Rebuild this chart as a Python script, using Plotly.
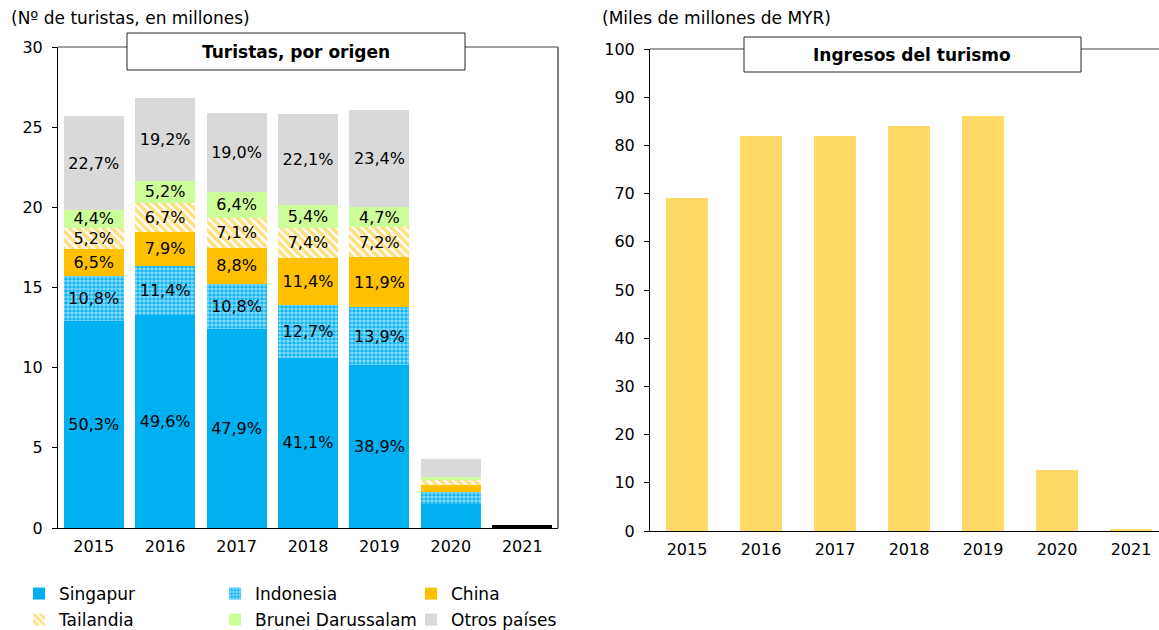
import plotly.graph_objects as go

# ---------------- data ----------------
years = ["2015", "2016", "2017", "2018", "2019", "2020", "2021"]
total_tourists = [25.7, 26.8, 25.9, 25.8, 26.1, 4.3, 0.0]  # millions
# shares (%) of each origin
share_singapur = [50.3, 49.6, 47.9, 41.1, 38.9, 35.0, 0.0]
share_indonesia = [10.8, 11.4, 10.8, 12.7, 13.9, 17.5, 0.0]
share_china = [6.5, 7.9, 8.8, 11.4, 11.9, 9.5, 0.0]
share_tailandia = [5.2, 6.7, 7.1, 7.4, 7.2, 8.0, 0.0]
share_brunei = [4.4, 5.2, 6.4, 5.4, 4.7, 3.5, 0.0]
share_otros = [22.7, 19.2, 19.0, 22.1, 23.4, 26.5, 0.0]
show_label = [True, True, True, True, True, False, False]
total_2021 = [0, 0, 0, 0, 0, 0, 0.2]

ingresos = [69, 82, 82, 84, 86, 12.7, 0.3]  # miles de millones de MYR

W, H = 1159, 630
FONT = "DejaVu Sans"

def fx(px):
    return px / W

def fy(py):
    return 1 - py / H

# plot geometry (pixels)
L_X0, L_X1, L_Y0, L_Y1 = 58, 558, 528, 47
R_X0, R_X1, R_Y0, R_Y1 = 650, 1159, 531, 49
R_CAT = 74.0

fig = go.Figure()

series = [
    ("Singapur", share_singapur, dict(color="#00B0F0"), "legend"),
    ("Indonesia", share_indonesia,
     dict(color="#00B0F0", pattern=dict(shape=".", fgcolor="white", bgcolor="#00B0F0",
                                        size=4, solidity=0.65)), "legend"),
    ("China", share_china, dict(color="#FFC000"), "legend"),
    ("Tailandia", share_tailandia,
     dict(color="#FFC000", pattern=dict(shape="\\", fgcolor="#FFC000", bgcolor="white",
                                        size=6, solidity=0.6)), "legend2"),
    ("Brunei Darussalam", share_brunei, dict(color="#CCFF99"), "legend2"),
    ("Otros países", share_otros, dict(color="#D9D9D9"), "legend2"),
]

def fmt(v):
    return ("%.1f" % v).replace(".", ",") + "%"

for name, shares, marker, lg in series:
    vals = [t * s / 100 for t, s in zip(total_tourists, shares)]
    texts = [fmt(s) if show else "" for s, show in zip(shares, show_label)]
    fig.add_trace(go.Bar(
        x=years, y=vals, name=name, marker=dict(line=dict(width=0), **marker),
        text=texts, textposition="inside", insidetextanchor="middle",
        constraintext="none", cliponaxis=False,
        textangle=0, textfont=dict(color="black", size=16, family=FONT),
        width=0.84, xaxis="x", yaxis="y", legend=lg, hoverinfo="skip",
    ))

fig.add_trace(go.Bar(
    x=years, y=total_2021, name="Total", showlegend=False,
    marker=dict(color="black", line=dict(width=0)), width=0.84,
    xaxis="x", yaxis="y", hoverinfo="skip",
))

fig.add_trace(go.Bar(
    x=years, y=ingresos, name="Ingresos", showlegend=False,
    marker=dict(color="#FFD966", line=dict(width=0)), width=42 / R_CAT,
    xaxis="x2", yaxis="y2", hoverinfo="skip",
))

axis_font = dict(family=FONT, size=16, color="black")

fig.update_layout(
    width=W, height=H, margin=dict(l=0, r=0, t=0, b=0, autoexpand=False),
    paper_bgcolor="white", plot_bgcolor="white",
    barmode="stack",
    font=dict(family=FONT, size=16, color="black"),
    xaxis=dict(domain=[fx(L_X0), fx(L_X1)], anchor="y", type="category",
               range=[-0.5, 6.5], showgrid=False, showline=True,
               linecolor="black", linewidth=1, ticks="", tickfont=axis_font,
               ticklabelstandoff=4, automargin=False),
    yaxis=dict(domain=[fy(L_Y0), fy(L_Y1)], anchor="x", range=[0, 30],
               dtick=5, showgrid=False, showline=True, linecolor="black",
               linewidth=1, ticks="outside", ticklen=5, tickcolor="black",
               tickfont=axis_font, ticklabelstandoff=6, zeroline=False,
               automargin=False),
    xaxis2=dict(domain=[fx(R_X0), 1.0], anchor="y2", type="category",
                range=[-0.5, -0.5 + (R_X1 - R_X0) / R_CAT], showgrid=False,
                showline=True, linecolor="black", linewidth=1, ticks="",
                tickfont=axis_font, ticklabelstandoff=4, automargin=False),
    yaxis2=dict(domain=[fy(R_Y0), fy(R_Y1)], anchor="x2", range=[0, 100],
                dtick=10, showgrid=False, showline=True, linecolor="black",
                linewidth=1, ticks="outside", ticklen=5, tickcolor="black",
                tickfont=axis_font, ticklabelstandoff=6, zeroline=False,
                automargin=False),
    legend=dict(orientation="h", x=fx(19), y=fy(594), xanchor="left",
                yanchor="middle", entrywidth=151, font=dict(family=FONT, size=17),
                bgcolor="rgba(0,0,0,0)", traceorder="normal", itemclick=False),
    legend2=dict(orientation="h", x=fx(19), y=fy(620), xanchor="left",
                 yanchor="middle", entrywidth=151, font=dict(family=FONT, size=17),
                 bgcolor="rgba(0,0,0,0)", traceorder="normal", itemclick=False),
)

shapes = [
    # left chart frame: top and right
    dict(type="line", xref="paper", yref="paper", x0=fx(L_X0), x1=fx(L_X1),
         y0=fy(L_Y1), y1=fy(L_Y1), line=dict(color="#404040", width=1)),
    dict(type="line", xref="paper", yref="paper", x0=fx(L_X1), x1=fx(L_X1),
         y0=fy(L_Y1), y1=fy(L_Y0), line=dict(color="#808080", width=2)),
    # right chart frame: top
    dict(type="line", xref="paper", yref="paper", x0=fx(R_X0), x1=1.0,
         y0=fy(R_Y1), y1=fy(R_Y1), line=dict(color="#808080", width=1.5)),
    # title boxes
    dict(type="rect", xref="paper", yref="paper", x0=fx(127), x1=fx(465),
         y0=fy(70), y1=fy(33), fillcolor="white",
         line=dict(color="#262626", width=1), layer="above"),
    dict(type="rect", xref="paper", yref="paper", x0=fx(744), x1=fx(1081),
         y0=fy(72), y1=fy(37), fillcolor="white",
         line=dict(color="#262626", width=1), layer="above"),
]
fig.update_layout(shapes=shapes)

annotations = [
    dict(text="(Nº de turistas, en millones)", xref="paper", yref="paper",
         x=fx(9), y=fy(18), xanchor="left", yanchor="middle", showarrow=False,
         font=dict(family=FONT, size=17, color="black")),
    dict(text="(Miles de millones de MYR)", xref="paper", yref="paper",
         x=fx(600), y=fy(18), xanchor="left", yanchor="middle", showarrow=False,
         font=dict(family=FONT, size=17, color="black")),
    dict(text="<b>Turistas, por origen</b>", xref="paper", yref="paper",
         x=fx(296), y=fy(52), xanchor="center", yanchor="middle", showarrow=False,
         font=dict(family=FONT, size=17, color="black")),
    dict(text="<b>Ingresos del turismo</b>", xref="paper", yref="paper",
         x=fx(912), y=fy(55), xanchor="center", yanchor="middle", showarrow=False,
         font=dict(family=FONT, size=17, color="black")),
]
fig.update_layout(annotations=annotations)

fig.write_html("out.html",
               config={"displayModeBar": False},
               post_script="document.body.style.margin='0px';"
                           "document.body.style.padding='0px';")
